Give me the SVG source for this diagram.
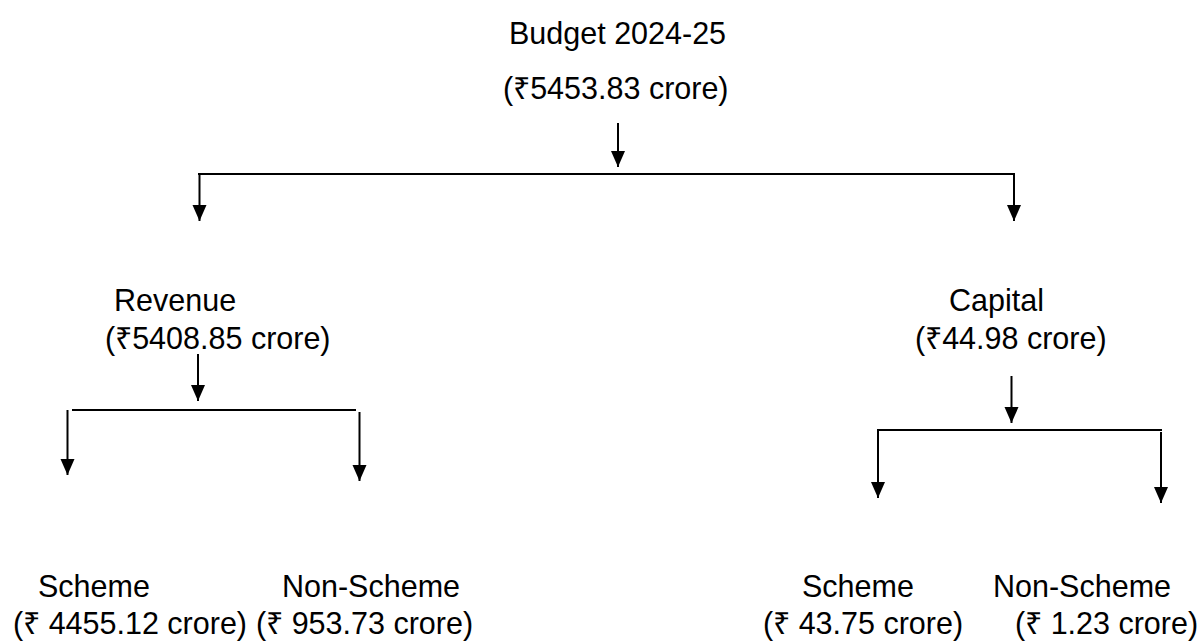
<svg xmlns="http://www.w3.org/2000/svg" width="1203" height="643" viewBox="0 0 1203 643">
<style>
  text { font-family: "Liberation Sans", Arial, sans-serif; font-size: 30.5px; fill: #000; }
  .ln { stroke: #000; stroke-width: 2; fill: none; }
  .ar { stroke: #000; stroke-width: 2; fill: none; marker-end: url(#ah); }
</style>
<defs>
  <marker id="ah" markerUnits="userSpaceOnUse" markerWidth="17" markerHeight="16" viewBox="0 0 17 16" refX="16" refY="7.5" orient="auto">
    <path d="M0,0.5 L16,7.5 L0,14.5 Z" fill="#000"/>
  </marker>
</defs>
<rect width="1203" height="643" fill="#fff"/>
<g id="budget">
  <text x="509" y="44">Budget 2024-25</text>
  <text x="503" y="99">(₹5453.83 crore)</text>
</g>
<g id="revenue">
  <text x="114" y="311">Revenue</text>
  <text x="105" y="349">(₹5408.85 crore)</text>
</g>
<g id="capital">
  <text x="949" y="311">Capital</text>
  <text x="915" y="349">(₹44.98 crore)</text>
</g>
<g id="rev-scheme">
  <text x="38" y="597">Scheme</text>
  <text x="13" y="634">(₹ 4455.12 crore)</text>
</g>
<g id="rev-nonscheme">
  <text x="282" y="597">Non-Scheme</text>
  <text x="256" y="634">(₹ 953.73 crore)</text>
</g>
<g id="cap-scheme">
  <text x="802" y="597">Scheme</text>
  <text x="763" y="634">(₹ 43.75 crore)</text>
</g>
<g id="cap-nonscheme">
  <text x="993" y="597">Non-Scheme</text>
  <text x="1015" y="634">(₹ 1.23 crore)</text>
</g>
<g id="connectors">
  <path class="ar" d="M618,123 V167"/>
  <path class="ln" d="M198,174 H1015"/>
  <path class="ar" d="M199.5,174 V221"/>
  <path class="ar" d="M1014,174 V221"/>
  <path class="ar" d="M198,354 V401"/>
  <path class="ln" d="M72,410 H356"/>
  <path class="ar" d="M67.5,410 V475"/>
  <path class="ar" d="M359.5,412 V481"/>
  <path class="ar" d="M1011.5,376 V423"/>
  <path class="ln" d="M877,430 H1162"/>
  <path class="ar" d="M878,430 V498"/>
  <path class="ar" d="M1161,432 V503"/>
</g>
</svg>
